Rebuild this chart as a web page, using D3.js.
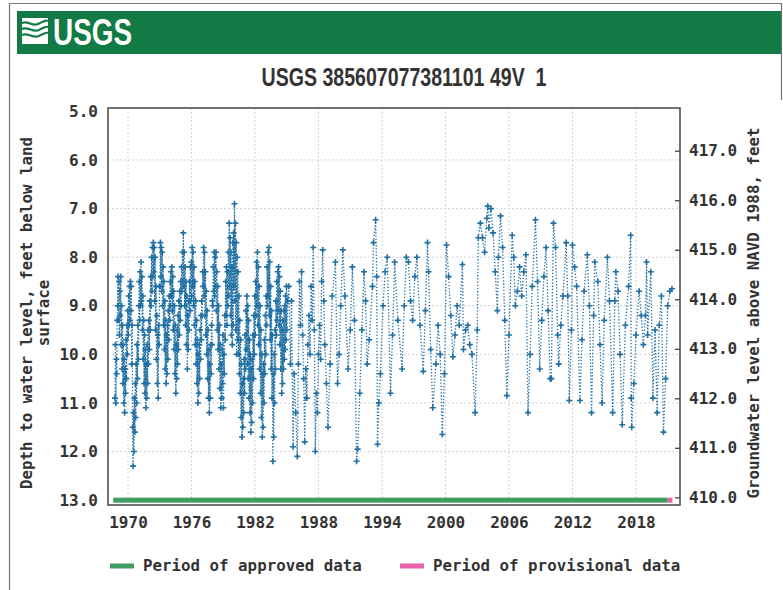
<!DOCTYPE html>
<html><head><meta charset="utf-8">
<script src="https://cdn.jsdelivr.net/npm/d3@7"></script>
<style>
html,body{margin:0;padding:0;background:#fff;}
svg{display:block;}
text{font-family:"DejaVu Sans Mono",monospace;}
</style></head><body>
<svg id="chart" width="783" height="590"></svg>
<script>
// ---------- data ----------
const titleText = "USGS 385607077381101 49V  1";
const leftLabel = ["Depth to water level, feet below land", "surface"];
const rightLabel = "Groundwater level above NAVD 1988, feet";
const yearTicks = [1970, 1976, 1982, 1988, 1994, 2000, 2006, 2012, 2018];
const depthTicks = [5, 6, 7, 8, 9, 10, 11, 12, 13];
const elevTicks = [410, 411, 412, 413, 414, 415, 416, 417];
const legendLabels = ["Period of approved data", "Period of provisional data"];
const approvedPeriod = [1968.6, 2021.0];
const provisionalPeriod = [2021.0, 2021.45];

// semi-monthly depths, Oct 1968 .. Dec 1984 (feet below land surface)
const denseStart = 1968.75;
const denseDepths = [
  10.9, 9.8, 11.0, 10.1, 10.4, 9.3,
  9.0, 8.4, 9.3, 8.5, 9.6, 8.7, 9.2, 8.4, 9.8, 9.0, 10.3, 9.4, 10.6, 9.8, 11.0, 10.1, 11.2, 10.3, 10.8, 9.7, 10.5, 9.4, 10.0, 9.1,
  9.6, 8.8, 9.4, 8.6, 9.3, 8.5, 9.1, 8.6, 10.2, 9.4, 11.5, 12.3, 11.2, 12.0, 10.9, 11.6, 10.6, 11.3, 10.2, 11.0, 9.8, 10.5, 9.4, 10.1,
  9.0, 8.5, 9.3, 8.3, 9.0, 8.1, 8.9, 8.4, 9.5, 8.8, 10.1, 9.3, 10.6, 9.6, 10.8, 9.9, 11.1, 10.2, 10.9, 9.8, 10.6, 9.5, 10.2, 9.3,
  9.9, 8.9, 9.5, 8.4, 9.0, 8.0, 8.7, 7.8, 8.4, 7.7, 8.3, 7.8, 8.9, 8.0, 9.5, 8.6, 10.1, 9.2, 10.6, 9.6, 10.9, 9.4, 9.8, 8.6,
  8.6, 7.7, 8.4, 7.8, 8.7, 7.9, 9.0, 8.2, 9.4, 8.5, 9.9, 8.9, 10.3, 9.3, 10.6, 9.6, 10.4, 9.4, 10.1, 9.1, 9.7, 8.8, 9.3, 8.5,
  9.0, 8.3, 8.8, 8.2, 9.1, 8.4, 9.5, 8.7, 9.9, 9.0, 10.4, 9.4, 10.8, 9.8, 10.5, 9.5, 10.2, 9.2, 9.9, 8.9, 9.6, 8.7, 9.3, 8.5,
  9.0, 8.2, 8.7, 7.9, 8.5, 7.5, 8.6, 7.9, 9.0, 8.2, 9.4, 8.5, 9.8, 8.8, 10.3, 9.2, 9.9, 8.9, 9.5, 8.5, 9.1, 8.2, 8.9, 8.1,
  8.8, 7.8, 8.6, 7.9, 9.0, 8.2, 9.4, 8.5, 9.8, 8.9, 10.2, 9.3, 10.6, 9.7, 11.0, 10.0, 10.8, 9.8, 10.5, 9.5, 10.1, 9.2, 9.7, 8.9,
  9.2, 8.3, 8.6, 7.8, 8.8, 7.9, 9.2, 8.3, 9.6, 8.7, 10.0, 9.1, 10.5, 9.5, 10.9, 9.9, 11.2, 10.2, 10.9, 9.8, 10.4, 9.4, 9.8, 8.9,
  9.0, 8.2, 8.7, 7.9, 8.8, 8.0, 8.6, 7.9, 9.1, 8.3, 9.5, 8.6, 9.9, 9.0, 10.3, 9.4, 10.7, 9.8, 11.1, 10.2, 10.9, 9.9, 10.6, 9.6,
  11.1, 10.0, 10.4, 9.2, 9.7, 8.5, 9.2, 8.2, 9.4, 8.3, 9.0, 7.9, 8.8, 7.3, 8.6, 7.6, 9.2, 7.9, 9.6, 8.2, 9.8, 7.7, 9.4, 7.5,
  8.6, 6.9, 8.9, 7.3, 9.5, 7.7, 10.0, 8.0, 9.7, 8.3, 10.0, 8.8, 10.4, 9.3, 10.8, 9.7, 11.3, 10.2, 11.7, 10.6, 11.5, 10.5, 11.2, 10.1,
  10.8, 9.6, 10.3, 9.1, 9.9, 8.8, 10.2, 9.0, 10.5, 9.3, 10.9, 9.7, 11.2, 10.0, 11.6, 10.3, 11.4, 10.1, 11.0, 9.6, 10.5, 9.2, 10.0, 8.8,
  9.6, 8.5, 9.2, 8.1, 9.0, 7.9, 9.4, 8.2, 9.8, 8.6, 10.3, 9.0, 10.8, 9.5, 11.3, 10.0, 11.7, 10.4, 11.5, 10.2, 11.0, 9.7, 10.4, 9.2,
  10.0, 8.8, 9.4, 8.2, 9.0, 7.9, 8.8, 7.8, 9.2, 8.1, 9.7, 8.6, 10.3, 9.1, 10.9, 9.6, 12.2, 10.4, 11.7, 10.0, 11.0, 9.5, 10.3, 8.9,
  9.6, 8.5, 9.3, 8.3, 9.1, 8.2, 9.4, 8.4, 9.8, 8.7, 10.3, 9.1, 10.8, 9.5, 10.6, 9.3, 10.3, 9.1, 10.1, 9.0, 9.9, 8.8, 9.7, 8.6
];

// periodic measurements 1985 .. 2021 : [decimal year, depth]
const sparseObs = [
  [1985.0, 9.5], [1985.1, 8.9], [1985.2, 8.6], [1985.35, 10.2], [1985.45, 8.9], [1985.6, 11.9], [1985.7, 10.4], [1985.85, 11.2],
  [1986.0, 12.1], [1986.1, 10.2], [1986.2, 8.5], [1986.3, 9.4], [1986.4, 8.3], [1986.5, 9.6], [1986.6, 10.5], [1986.7, 11.8], [1986.8, 10.3], [1986.9, 10.9],
  [1987.0, 9.8], [1987.1, 9.2], [1987.2, 10.0], [1987.3, 8.6], [1987.4, 9.3], [1987.5, 7.8], [1987.6, 9.5], [1987.7, 12.0], [1987.8, 10.8], [1987.9, 11.2],
  [1988.0, 10.0], [1988.1, 9.4], [1988.2, 10.1], [1988.3, 8.5], [1988.4, 7.85], [1988.5, 8.9], [1988.6, 9.8], [1988.75, 10.6], [1988.9, 11.5],
  [1989.1, 10.2], [1989.3, 8.8], [1989.6, 8.1], [1989.8, 10.6], [1989.95, 10.0],
  [1990.1, 9.0], [1990.3, 7.85], [1990.5, 8.8], [1990.8, 10.3],
  [1991.0, 9.5], [1991.2, 8.2], [1991.4, 9.3], [1991.6, 12.2], [1991.7, 11.95], [1991.9, 10.8],
  [1992.1, 9.5], [1992.3, 8.3], [1992.45, 8.9], [1992.6, 10.2], [1992.8, 9.7],
  [1993.1, 8.6], [1993.2, 7.7], [1993.4, 7.23], [1993.5, 8.4], [1993.58, 11.85], [1993.7, 11.0], [1993.85, 10.4],
  [1994.1, 9.0], [1994.3, 8.3], [1994.5, 8.0], [1994.8, 10.8],
  [1995.0, 9.6], [1995.2, 8.1], [1995.5, 9.3], [1995.9, 10.3],
  [1996.1, 9.0], [1996.3, 8.0], [1996.5, 8.1], [1996.7, 8.9], [1996.9, 9.3],
  [1997.1, 8.4], [1997.3, 8.0], [1997.6, 9.4], [1997.9, 10.35],
  [1998.1, 9.1], [1998.3, 7.7], [1998.4, 8.3], [1998.6, 9.9], [1998.8, 11.1],
  [1999.1, 10.2], [1999.3, 9.4], [1999.5, 10.0], [1999.7, 11.65], [1999.9, 10.4],
  [2000.1, 7.75], [2000.3, 8.4], [2000.5, 9.2], [2000.7, 10.05], [2000.9, 9.6],
  [2001.1, 9.0], [2001.3, 9.4], [2001.6, 8.15], [2001.7, 9.9], [2001.9, 9.5],
  [2002.1, 9.4], [2002.3, 9.8], [2002.5, 10.0], [2002.8, 11.2],
  [2003.0, 9.5], [2003.1, 7.6], [2003.3, 7.3], [2003.5, 7.6], [2003.7, 7.9], [2003.9, 7.2],
  [2004.0, 6.95], [2004.1, 7.4], [2004.3, 7.0], [2004.5, 7.5], [2004.7, 8.3], [2004.9, 9.1],
  [2005.0, 8.0], [2005.2, 7.15], [2005.4, 7.8], [2005.6, 9.3], [2005.8, 10.85],
  [2006.0, 9.6], [2006.3, 7.55], [2006.45, 8.0], [2006.6, 9.0], [2006.8, 8.7],
  [2007.0, 8.2], [2007.2, 8.8], [2007.4, 8.3], [2007.6, 7.95], [2007.8, 11.2],
  [2008.0, 10.0], [2008.2, 8.6], [2008.5, 7.23], [2008.7, 8.5], [2008.9, 10.3],
  [2009.1, 9.3], [2009.3, 8.4], [2009.5, 7.8], [2009.7, 9.1], [2009.9, 10.5],
  [2010.0, 10.5], [2010.2, 7.3], [2010.4, 7.8], [2010.6, 9.6], [2010.7, 10.2], [2010.9, 9.4],
  [2011.1, 8.8], [2011.4, 7.7], [2011.55, 8.8], [2011.7, 10.95], [2011.9, 9.5],
  [2012.0, 7.75], [2012.2, 8.2], [2012.4, 8.6], [2012.7, 10.95], [2012.9, 9.7],
  [2013.1, 8.7], [2013.4, 7.95], [2013.6, 9.0], [2013.8, 11.2],
  [2014.0, 9.2], [2014.1, 8.1], [2014.4, 8.5], [2014.6, 9.8], [2014.8, 11.0],
  [2015.0, 9.3], [2015.3, 8.0], [2015.5, 8.9], [2015.8, 11.2],
  [2016.0, 8.9], [2016.1, 8.3], [2016.3, 8.7], [2016.5, 10.0], [2016.7, 11.45],
  [2017.0, 9.4], [2017.3, 8.6], [2017.5, 7.55], [2017.55, 10.9], [2017.6, 11.5], [2017.8, 10.6],
  [2018.0, 9.6], [2018.3, 8.7], [2018.5, 9.2], [2018.7, 9.8], [2018.9, 9.2],
  [2019.0, 8.1], [2019.1, 9.6], [2019.4, 8.3], [2019.6, 10.9], [2019.8, 9.5],
  [2020.0, 11.2], [2020.2, 9.4], [2020.4, 8.8], [2020.6, 11.6], [2020.8, 10.5],
  [2021.0, 9.0], [2021.2, 8.7], [2021.4, 8.65]
];

// ---------- layout ----------
const W = 783, H = 590;
const plot = {left: 108, right: 680, top: 108, bottom: 505};
const blue = "#1f6fa3";

const svg = d3.select("#chart");

const x = d3.scaleLinear().domain([1968.11, 2022.16]).range([plot.left, plot.right]);
const yL = d3.scaleLinear().domain([4.93, 13.10]).range([plot.top, plot.bottom]);
const yR = d3.scaleLinear().domain([417.863, 409.845]).range([plot.top, plot.bottom]);

// page frame
svg.append("path").attr("d", `M9.5,${H} V3.5 H781.5 V100`)
  .attr("fill", "none").attr("stroke", "#777").attr("stroke-width", 1.2);

// header bar
svg.append("rect").attr("x", 17).attr("y", 11).attr("width", 764).attr("height", 43).attr("fill", "#117a45");
const logo = svg.append("g").attr("transform", "translate(22,18)");
logo.append("path").attr("d", "M0,0 L26,0 L26,26 L0,26 Z").attr("fill", "#fff");
["M0,5 C6,2 10,9 16,6 S24,2 26,3", "M0,11 C6,8 11,15 17,12 S24,8 26,9", "M0,17 C6,14 11,21 17,18 S24,14 26,15"]
  .forEach(d => logo.append("path").attr("d", d).attr("fill", "none").attr("stroke", "#117a45").attr("stroke-width", 2.2));
svg.append("text").attr("x", 53).attr("y", 45).text("USGS")
  .style("font-family", "'Liberation Sans', Arial, sans-serif").style("font-weight", "bold")
  .style("font-size", "36px").attr("fill", "#fff").attr("textLength", 79).attr("lengthAdjust", "spacingAndGlyphs");

// title
svg.append("text").attr("x", 404).attr("y", 86).attr("text-anchor", "middle").text(titleText)
  .style("white-space", "pre")
  .style("font-family", "'Liberation Sans', Arial, sans-serif").style("font-weight", "bold")
  .style("font-size", "25px").attr("fill", "#333").attr("textLength", 285).attr("lengthAdjust", "spacingAndGlyphs");

// gridlines
const grid = svg.append("g").attr("stroke", "#d4d4d4").attr("stroke-width", 1).attr("stroke-dasharray", "2,2");
grid.selectAll("line.h").data(depthTicks.filter(d => d > 5 && d < 13)).join("line")
  .attr("x1", plot.left).attr("x2", plot.right).attr("y1", d => yL(d)).attr("y2", d => yL(d));
grid.selectAll("line.v").data(yearTicks).join("line")
  .attr("y1", plot.top).attr("y2", plot.bottom).attr("x1", d => x(d)).attr("x2", d => x(d));

// period bars
svg.append("rect").attr("x", x(approvedPeriod[0])).attr("width", x(approvedPeriod[1]) - x(approvedPeriod[0]))
  .attr("y", yL(13) - 2.5).attr("height", 5).attr("fill", "#3f9d60");
svg.append("rect").attr("x", x(provisionalPeriod[0])).attr("width", x(provisionalPeriod[1]) - x(provisionalPeriod[0]))
  .attr("y", yL(13) - 2.5).attr("height", 5).attr("fill", "#e763ad");

// series
const series = denseDepths.map((d, i) => [denseStart + (i + 0.5) / 24, d]).concat(sparseObs);
const line = d3.line().x(d => x(d[0])).y(d => yL(d[1]));
svg.append("path").datum(series).attr("d", line).attr("fill", "none")
  .attr("stroke", blue).attr("stroke-width", 1.3).attr("stroke-dasharray", "1.3,1.9");
svg.append("g").selectAll("path").data(series).join("path")
  .attr("transform", d => `translate(${x(d[0])},${yL(d[1])})`)
  .attr("d", "M-3,0H3M0,-3V3").attr("stroke", blue).attr("stroke-width", 1.6).attr("fill", "none");

// frame
svg.append("rect").attr("x", plot.left).attr("y", plot.top).attr("width", plot.right - plot.left)
  .attr("height", plot.bottom - plot.top).attr("fill", "none").attr("stroke", "#444").attr("stroke-width", 1.5);

// axes
const tickFont = g => g.selectAll("text").style("font-family", "'DejaVu Sans Mono', monospace")
  .style("font-weight", "bold").style("font-size", "16px").attr("fill", "#333");

const axL = svg.append("g").attr("transform", `translate(${plot.left},0)`)
  .call(d3.axisLeft(yL).tickValues(depthTicks).tickFormat(d3.format(".1f")).tickSize(0).tickPadding(10));
axL.select(".domain").remove(); axL.call(tickFont);

const axR = svg.append("g").attr("transform", `translate(${plot.right},0)`)
  .call(d3.axisRight(yR).tickValues(elevTicks).tickFormat(d3.format(".1f")).tickSizeInner(-5).tickSizeOuter(0).tickPadding(9));
axR.select(".domain").remove(); axR.selectAll("line").attr("stroke", "#444").attr("stroke-width", 1.3); axR.call(tickFont);

const axB = svg.append("g").attr("transform", `translate(0,${plot.bottom})`)
  .call(d3.axisBottom(x).tickValues(yearTicks).tickFormat(d3.format("d")).tickSize(0).tickPadding(12));
axB.select(".domain").remove(); axB.call(tickFont);

// axis titles
const titleStyle = s => s.style("font-family", "'DejaVu Sans Mono', monospace").style("font-weight", "bold")
  .style("font-size", "15.8px").attr("fill", "#333").attr("text-anchor", "middle");
svg.append("text").attr("transform", "translate(32,313) rotate(-90)").text(leftLabel[0]).call(titleStyle);
svg.append("text").attr("transform", "translate(49,313) rotate(-90)").text(leftLabel[1]).call(titleStyle);
svg.append("text").attr("transform", "translate(759,313) rotate(-90)").text(rightLabel).call(titleStyle);

// legend
const legend = svg.append("g");
[[110, 143, "#3f9d60", legendLabels[0]], [400, 433, "#e763ad", legendLabels[1]]].forEach(([sx, tx, c, t]) => {
  legend.append("rect").attr("x", sx).attr("y", 563.5).attr("width", 24).attr("height", 5).attr("fill", c);
  legend.append("text").attr("x", tx).attr("y", 571).text(t)
    .style("font-family", "'DejaVu Sans Mono', monospace").style("font-weight", "bold")
    .style("font-size", "15.8px").attr("fill", "#333");
});
</script>
</body></html>
